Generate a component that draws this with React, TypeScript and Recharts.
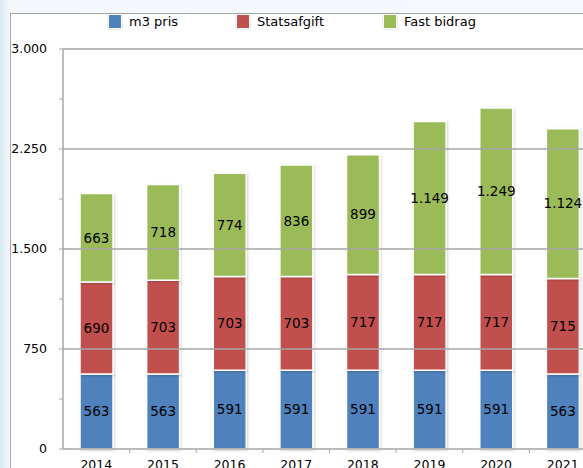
import React from 'react';
import { BarChart, Bar, XAxis, YAxis, ReferenceLine, LabelList } from 'recharts';

const years = ['2014', '2015', '2016', '2017', '2018', '2019', '2020', '2021'];
const m3Pris = [563, 563, 591, 591, 591, 591, 591, 563];
const statsafgift = [690, 703, 703, 703, 717, 717, 717, 715];
const fastBidrag = [663, 718, 774, 836, 899, 1149, 1249, 1124];
const yTicks = [0, 375, 750, 1125, 1500, 1875, 2250, 2625, 3000];
const majorTicks = [0, 750, 1500, 2250, 3000];

const series = [
  { key: 'm3', name: 'm3 pris', color: '#4F81BD' },
  { key: 'stat', name: 'Statsafgift', color: '#C0504D' },
  { key: 'fast', name: 'Fast bidrag', color: '#9BBB59' },
];

const data = years.map((y, i) => ({ year: y, m3: m3Pris[i], stat: statsafgift[i], fast: fastBidrag[i] }));

const FONT = '"DejaVu Sans", Verdana, sans-serif';
const fmt = (v: number) => String(v).replace(/\B(?=(\d{3})+(?!\d))/g, '.');

const CHART_W = 620;
const PLOT_LEFT = 63;
const PLOT_RIGHT_MARGIN = 24;
const PLOT_BOTTOM = 449;
const BAND = (CHART_W - PLOT_LEFT - PLOT_RIGHT_MARGIN) / years.length;

const YTick = (props: any) => {
  const { x, y, payload } = props;
  if (!majorTicks.includes(payload.value)) return null;
  return (
    <text x={x} y={y} dy={4} textAnchor="end" fontSize={12.5} fill="#000" fontFamily={FONT}>
      {fmt(payload.value)}
    </text>
  );
};

const XTick = (props: any) => {
  const { x, payload } = props;
  return (
    <g>
      <line x1={x + BAND / 2} x2={x + BAND / 2} y1={PLOT_BOTTOM} y2={PLOT_BOTTOM + 4} stroke="#a6a6a6" />
      <text x={x} y={PLOT_BOTTOM + 20} textAnchor="middle" fontSize={12.5} fill="#000" fontFamily={FONT}>
        {payload.value}
      </text>
    </g>
  );
};

const legendPos = [108, 236, 383];

const LegendBox = () => (
  <div style={{ position: 'absolute', left: 0, top: 14, height: 20, width: 583 }}>
    {series.map((s, i) => (
      <div key={s.key} style={{ position: 'absolute', left: legendPos[i], top: 0, display: 'flex', alignItems: 'center' }}>
        <div style={{ width: 12, height: 13, background: s.color, border: '1px solid #fff', boxShadow: '0 0 1px #888' }} />
        <span style={{ marginLeft: 7, fontFamily: FONT, fontSize: 13, color: '#000' }}>{s.name}</span>
      </div>
    ))}
  </div>
);

export default function App() {
  return (
    <div style={{ position: 'fixed', left: 0, top: 0, width: 583, height: 468, overflow: 'hidden',
      background: 'linear-gradient(90deg, #d6e9f0 0px, #e9f3f8 6px, #f4f8fd 10px, #f5f8fd 100%)' }}>
      <div style={{ position: 'absolute', left: 10, top: 13, width: 640, height: 520, background: '#fff', border: '1px solid #a6a6a6' }} />
      <div style={{ position: 'absolute', left: 0, top: 0 }}>
        <svg width={0} height={0} style={{ position: 'absolute' }}>
          <defs>
            <filter id="barShadow" x="-20%" y="-20%" width="140%" height="140%">
              <feDropShadow dx="1" dy="1" stdDeviation="1" floodColor="#000" floodOpacity="0.18" />
            </filter>
          </defs>
        </svg>
        <BarChart width={CHART_W} height={500} data={data} margin={{ top: 49, right: PLOT_RIGHT_MARGIN, left: 0, bottom: 21 }} barSize={33}>
          {[750, 1500, 2250, 3000].map((v) => (
            <ReferenceLine key={v} y={v} stroke="#a6a6a6" strokeWidth={1.5} />
          ))}
          <XAxis dataKey="year" height={30} axisLine={{ stroke: '#a6a6a6', strokeWidth: 1.5 }} tickLine={false}
            tick={<XTick />} interval={0} />
          <YAxis domain={[0, 3000]} ticks={yTicks} width={PLOT_LEFT} axisLine={{ stroke: '#a6a6a6', strokeWidth: 1.5 }}
            tickLine={{ stroke: '#a6a6a6' }} tickSize={4} tick={<YTick />} tickMargin={12} interval={0} />
          {series.map((s) => (
            <Bar key={s.key} dataKey={s.key} name={s.name} stackId="a" fill={s.color} stroke="#fff" strokeWidth={1.5}
              isAnimationActive={false} style={{ filter: 'url(#barShadow)' }}>
              <LabelList dataKey={s.key} position="center" formatter={(v: any) => fmt(Number(v))}
                style={{ fontSize: 13.5, fill: '#000', fontFamily: FONT, filter: 'none' }} />
            </Bar>
          ))}
        </BarChart>
      </div>
      <LegendBox />
    </div>
  );
}
